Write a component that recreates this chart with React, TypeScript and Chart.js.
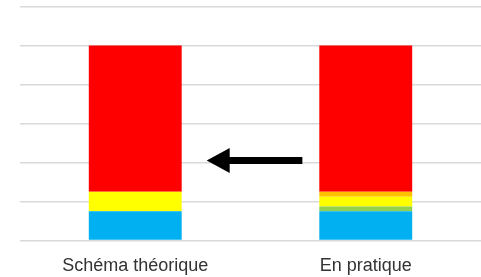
import React, { useEffect, useRef } from "react";
import { Chart, registerables } from "chart.js";

Chart.register(...registerables);

const categories = ["Schéma théorique", "En pratique"];
const blueValues = [15, 15];
const greenValues = [0, 2.5];
const yellowValues = [10, 5];
const orangeValues = [0, 2.5];
const redValues = [75, 75];
const yMin = 0;
const yMax = 120;
const yStep = 20;
// arrow annotation in data units (category index, value)
const arrowFromX = 0.725;
const arrowToX = 0.31;
const arrowY = 41;

const arrowPlugin = {
  id: "arrow",
  afterDatasetsDraw(chart: any) {
    const { ctx, scales } = chart;
    const x1 = scales.x.getPixelForValue(arrowFromX);
    const x2 = scales.x.getPixelForValue(arrowToX);
    const y = scales.y.getPixelForValue(arrowY);
    const headLen = 23;
    const headHalf = 12.5;
    ctx.save();
    ctx.fillStyle = "#000000";
    ctx.strokeStyle = "#000000";
    ctx.lineWidth = 7;
    ctx.beginPath();
    ctx.moveTo(x1, y);
    ctx.lineTo(x2 + headLen - 2, y);
    ctx.stroke();
    ctx.beginPath();
    ctx.moveTo(x2, y);
    ctx.lineTo(x2 + headLen, y - headHalf);
    ctx.lineTo(x2 + headLen, y + headHalf);
    ctx.closePath();
    ctx.fill();
    ctx.restore();
  },
};

export default function App() {
  const ref = useRef<HTMLCanvasElement>(null);
  useEffect(() => {
    document.body.style.margin = "0";
    const chart = new Chart(ref.current!, {
      type: "bar",
      data: {
        labels: categories,
        datasets: [
          { label: "bleu", data: blueValues, backgroundColor: "#00B0F0" },
          { label: "vert", data: greenValues, backgroundColor: "#92D050" },
          { label: "jaune", data: yellowValues, backgroundColor: "#FFFF00" },
          { label: "orange", data: orangeValues, backgroundColor: "#FFC000" },
          { label: "rouge", data: redValues, backgroundColor: "#FF0000" },
        ],
      },
      options: {
        animation: false,
        responsive: false,
        maintainAspectRatio: false,
        layout: { padding: { left: 20, top: 6.5, right: 0, bottom: 0 } },
        datasets: { bar: { barPercentage: 1, categoryPercentage: 0.403, borderWidth: 0 } },
        plugins: { legend: { display: false }, tooltip: { enabled: false } },
        scales: {
          x: {
            stacked: true,
            grid: { display: false, drawTicks: false },
            border: { display: false },
            afterFit(scale: any) {
              scale.height = 36.5;
            },
            ticks: {
              padding: 15,
              color: "#333333",
              maxRotation: 0,
              font: { family: "Liberation Sans, Arial, sans-serif", size: 18 },
            },
          },
          y: {
            stacked: true,
            min: yMin,
            max: yMax,
            ticks: { display: false, stepSize: yStep },
            grid: { color: "#D9D9D9", lineWidth: 1.5, drawTicks: false },
            border: { display: false },
          },
        },
      },
      plugins: [arrowPlugin],
    });
    return () => chart.destroy();
  }, []);
  return (
    <div style={{ position: "fixed", left: 0, top: 0, width: 481, height: 277 }}>
      <canvas ref={ref} width={481} height={277} />
    </div>
  );
}
